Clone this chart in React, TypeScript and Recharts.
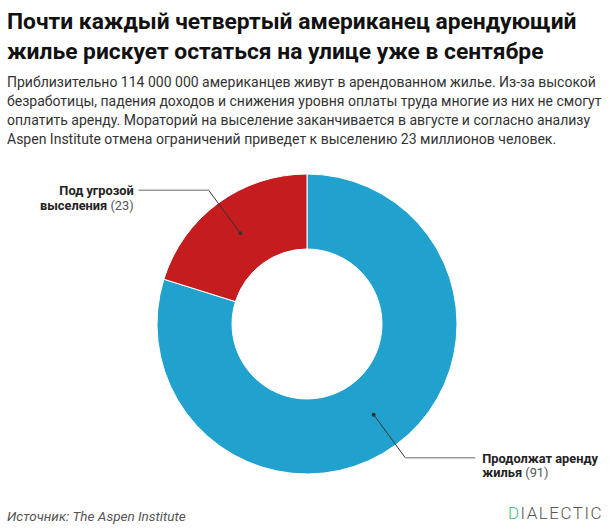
import { PieChart, Pie, Cell } from "recharts";

const names = ["Продолжат аренду жилья", "Под угрозой выселения"];
const values = [91, 23];
const colors = ["#21a1cd", "#c51d1f"];

const title = [
	"Почти каждый четвертый американец арендующий",
	"жилье рискует остаться на улице уже в сентябре",
];
const subtitle = [
	"Приблизительно 114 000 000 американцев живут в арендованном жилье. Из-за высокой",
	"безработицы, падения доходов и снижения уровня оплаты труда многие из них не смогут",
	"оплатить аренду. Мораторий на выселение заканчивается в августе и согласно анализу",
	"Aspen Institute отмена ограничений приведет к выселению 23 миллионов человек.",
];
const source = "Источник: The Aspen Institute";

const data = names.map((name, i) => ({ name, value: values[i] }));
const RADIAN = Math.PI / 180;

function renderLabel(props: any) {
	const { cx, cy, midAngle, innerRadius, outerRadius, name, value } = props;
	const cos = Math.cos(-midAngle * RADIAN);
	const sin = Math.sin(-midAngle * RADIAN);
	const rMid = (innerRadius + outerRadius) / 2;
	const sx = cx + rMid * cos;
	const sy = cy + rMid * sin;
	const ex = cx + (outerRadius + 16) * cos;
	const ey = cy + (outerRadius + 16) * sin;
	const right = cos >= 0;
	const hx = ex + (right ? 70 : -70);
	const tx = hx + (right ? 7 : -5);
	const cut = name.lastIndexOf(" ");
	const line1 = name.slice(0, cut);
	const line2 = name.slice(cut + 1);
	return (
		<g>
			<line x1={sx} y1={sy} x2={ex} y2={ey} stroke="#333" strokeWidth={1} />
			<line x1={ex} y1={ey} x2={hx} y2={ey} stroke="#999" strokeWidth={1.5} />
			<circle cx={sx} cy={sy} r={2} fill="#333" />
			<text
				x={tx}
				y={ey + 5}
				textAnchor={right ? "start" : "end"}
				fontFamily="Roboto, sans-serif"
				fontSize={12.8}
				fill="#222"
			>
				<tspan x={tx} fontWeight="bold">{line1}</tspan>
				<tspan x={tx} dy={14.5} fontWeight="bold">{line2}</tspan>
				<tspan fill="#555">{` (${value})`}</tspan>
			</text>
		</g>
	);
}

export default function App() {
	return (
		<div
			style={{
				position: "absolute",
				left: 0,
				top: 0,
				width: 614,
				height: 530,
				background: "#fff",
				fontFamily: "Roboto, sans-serif",
				overflow: "hidden",
			}}
		>
			<div
				style={{
					position: "absolute",
					left: 7,
					top: 7,
					fontSize: 22.8,
					fontWeight: "bold",
					lineHeight: "30px",
					color: "#111",
					whiteSpace: "nowrap",
				}}
			>
				{title.map((t) => (
					<div key={t}>{t}</div>
				))}
			</div>
			<div
				style={{
					position: "absolute",
					left: 7,
					top: 73,
					fontSize: 14,
					lineHeight: "19px",
					color: "#333",
					whiteSpace: "nowrap",
				}}
			>
				{subtitle.map((t) => (
					<div key={t}>{t}</div>
				))}
			</div>
			<div style={{ position: "absolute", left: 0, top: 160 }}>
				<PieChart width={614} height={340} margin={{ top: 0, right: 0, bottom: 0, left: 0 }}>
					<Pie
						data={data}
						dataKey="value"
						nameKey="name"
						cx={307}
						cy={164}
						innerRadius={75}
						outerRadius={150}
						startAngle={90}
						endAngle={-270}
						stroke="#fff"
						strokeWidth={1}
						label={renderLabel}
						labelLine={false}
						isAnimationActive={false}
					>
						{data.map((d, i) => (
							<Cell key={d.name} fill={colors[i]} />
						))}
					</Pie>
				</PieChart>
			</div>
			<div
				style={{
					position: "absolute",
					left: 7,
					top: 508,
					fontSize: 13.5,
					fontStyle: "italic",
					color: "#555",
				}}
			>
				{source}
			</div>
			<div
				style={{
					position: "absolute",
					right: 11,
					top: 503,
					fontSize: 17,
					letterSpacing: 1.5,
					fontWeight: 300,
					color: "#555",
				}}
			>
				<span style={{ color: "#3ec27e" }}>D</span>IALECTIC
			</div>
		</div>
	);
}
